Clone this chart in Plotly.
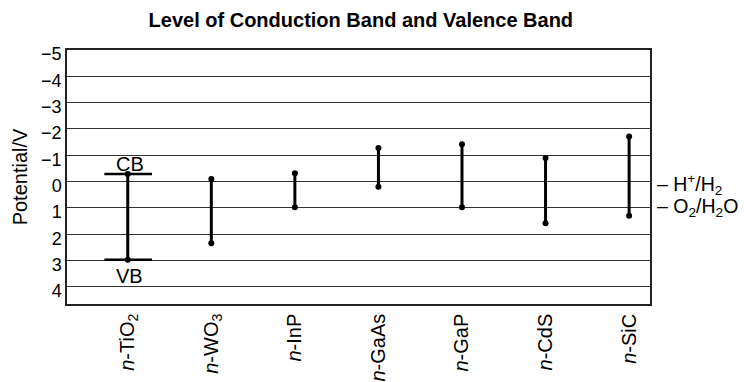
import plotly.graph_objects as go

# Band edge positions (V) for each semiconductor
materials = ["<i>n</i>-TiO<sub>2</sub>", "<i>n</i>-WO<sub>3</sub>", "<i>n</i>-InP",
             "<i>n</i>-GaAs", "<i>n</i>-GaP", "<i>n</i>-CdS", "<i>n</i>-SiC"]
conduction_band = [-0.29, -0.10, -0.32, -1.28, -1.42, -0.90, -1.71]
valence_band = [2.97, 2.34, 0.97, 0.20, 0.97, 1.58, 1.30]

# Redox reference levels shown at the right edge
redox_labels = ["– H<sup>+</sup>/H<sub>2</sub>", "– O<sub>2</sub>/H<sub>2</sub>O"]
redox_levels = [0.12, 1.0]

y_ticks = [-5, -4, -3, -2, -1, 0, 1, 2, 3, 4]
y_tick_text = ["−5", "−4", "−3", "−2", "−1", "0", "1", "2", "3", "4"]

FONT = "Liberation Sans, Arial, sans-serif"

fig = go.Figure()

# One vertical segment per material, from CB to VB, with end dots
for name, cb, vb in zip(materials, conduction_band, valence_band):
    fig.add_trace(go.Scatter(
        x=[name, name], y=[cb, vb], mode="lines+markers",
        line=dict(color="black", width=3),
        marker=dict(color="black", size=6),
        showlegend=False, hoverinfo="skip",
    ))

# Caps and CB / VB labels on the first material
first = materials[0]
for level in (conduction_band[0], valence_band[0]):
    fig.add_shape(type="line", xref="x", yref="y",
                  x0=-0.28, x1=0.29, y0=level, y1=level,
                  line=dict(color="black", width=2.5))

fig.add_annotation(x=first, y=conduction_band[0], text="CB", showarrow=False,
                   yanchor="bottom", yshift=-3, xshift=2,
                   font=dict(family=FONT, size=20, color="black"))
fig.add_annotation(x=first, y=valence_band[0], text="VB", showarrow=False,
                   yanchor="top", yshift=-3, xshift=2,
                   font=dict(family=FONT, size=20, color="black"))

for label, level in zip(redox_labels, redox_levels):
    fig.add_annotation(xref="paper", x=1, y=level, yref="y", text=label,
                       showarrow=False, xanchor="left", xshift=5,
                       font=dict(family=FONT, size=19.5, color="black"))

fig.update_layout(
    width=744, height=382,
    margin=dict(l=67, r=94, t=50, b=78),
    paper_bgcolor="white", plot_bgcolor="white",
    title=dict(text="<b>Level of Conduction Band and Valence Band</b>",
               x=0.485, xanchor="center", y=0.948, yanchor="middle",
               font=dict(family=FONT, size=20, color="black")),
    font=dict(family=FONT, size=18, color="black"),
)

fig.update_xaxes(
    type="category", categoryorder="array", categoryarray=materials,
    range=[-0.727, 6.25], tickangle=-90, showgrid=False,
    showline=True, linecolor="#222", linewidth=1.5, mirror=True,
    ticks="", tickfont=dict(family=FONT, size=20, color="black"),
    zeroline=False, automargin=False,
)

fig.update_yaxes(
    range=[4.65, -5], tickvals=y_ticks, ticktext=y_tick_text,
    showgrid=True, gridcolor="#333", gridwidth=1,
    showline=True, linecolor="#222", linewidth=1.5, mirror=True,
    ticks="", tickfont=dict(family=FONT, size=18, color="black"),
    ticklabelshift=-4,
    zeroline=False, automargin=False,
    title=dict(text="Potential/V", font=dict(family=FONT, size=20, color="black"),
               standoff=8),
)

fig.write_html("out.html")
